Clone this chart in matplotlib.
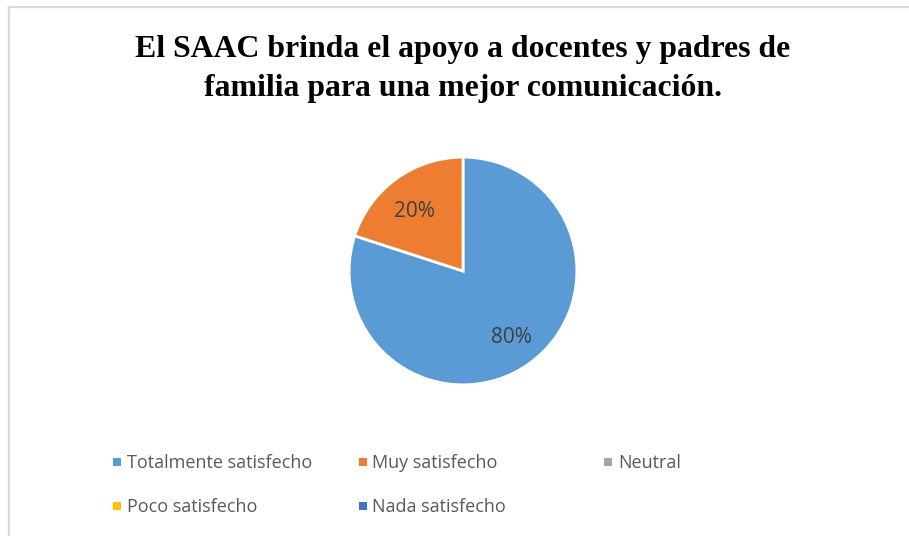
import matplotlib.pyplot as plt
from matplotlib.patches import Rectangle
from matplotlib.lines import Line2D

# datos del gráfico
categorias = ["Totalmente satisfecho", "Muy satisfecho", "Neutral",
              "Poco satisfecho", "Nada satisfecho"]
porcentajes = [80, 20, 0, 0, 0]
colores = ["#5B9BD5", "#ED7D31", "#A5A5A5", "#FFC000", "#4472C4"]
titulo = "El SAAC brinda el apoyo a docentes y padres de\nfamilia para una mejor comunicación."

W, H = 909, 536
fig = plt.figure(figsize=(W / 100, H / 100), dpi=100)
fig.patch.set_facecolor("white")

# marco gris (solo se ve arriba e izquierda)
fig.add_artist(Line2D([9 / W, 1], [1 - 7 / H, 1 - 7 / H], color="#D9D9D9", lw=1.6))
fig.add_artist(Line2D([9 / W, 9 / W], [0, 1 - 7 / H], color="#D9D9D9", lw=1.6))

# titulo
fig.text(463 / W, 1 - 69 / H, titulo, ha="center", va="center",
         family="Liberation Serif", weight="bold", fontsize=22.9,
         linespacing=1.45, color="black")

# pastel (solo valores distintos de cero)
vals = [v for v in porcentajes if v > 0]
cols = [c for v, c in zip(porcentajes, colores) if v > 0]
ax = fig.add_axes([348 / W, 1 - 386 / H, 230 / W, 230 / H])
wedges, textos, autotextos = ax.pie(
    vals, colors=cols, startangle=90, counterclock=False,
    autopct="%d%%", pctdistance=0.72,
    wedgeprops=dict(edgecolor="white", linewidth=2),
    textprops=dict(color="#404040", fontsize=15, family="Open Sans"))
# Excel deja la etiqueta del 20% un poco más abajo
autotextos[1].set_y(autotextos[1].get_position()[1] - 0.06)
ax.set_xlim(-1.01, 1.01)
ax.set_ylim(-1.01, 1.01)
ax.set_aspect("equal")

# leyenda manual en 3 columnas
for i, (nombre, color) in enumerate(zip(categorias, colores)):
    col, fila = i % 3, i // 3
    x = 113 + col * 245.5
    y = 462 + fila * 44
    fig.add_artist(Rectangle((x / W, 1 - (y + 4) / H), 8 / W, 8 / H,
                             facecolor=color, edgecolor="none",
                             transform=fig.transFigure))
    fig.text((x + 14) / W, 1 - (y + 1) / H, nombre, ha="left", va="center",
             family="Open Sans", fontsize=13, color="#595959")

fig.savefig("out.png", dpi=100)
